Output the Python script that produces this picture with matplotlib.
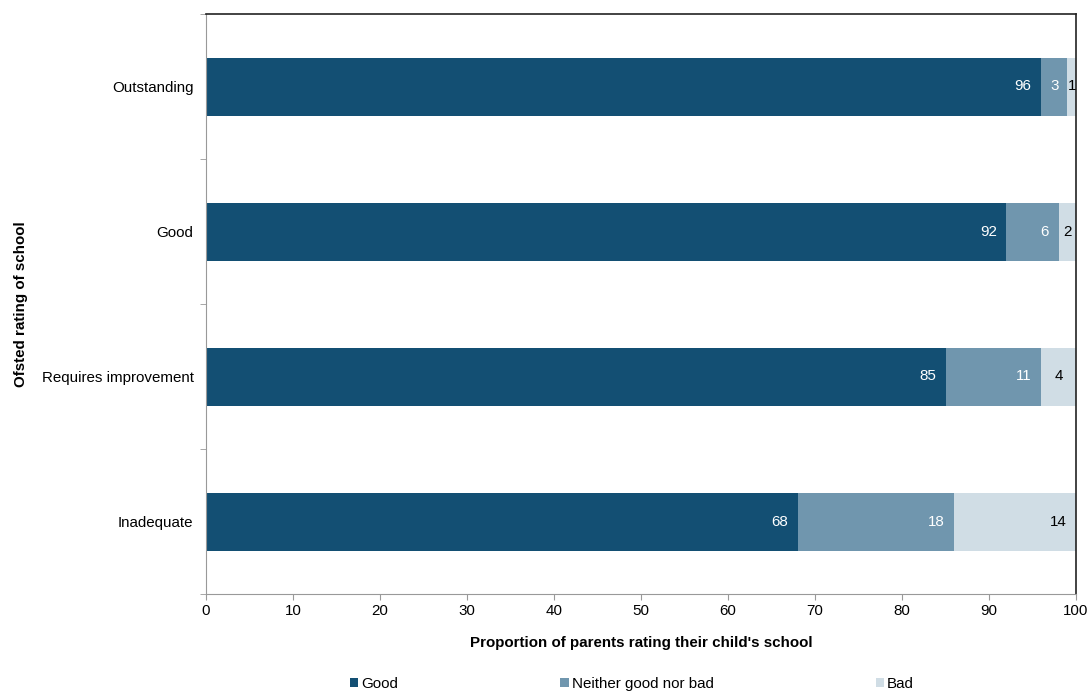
import matplotlib
matplotlib.use("Agg")
import matplotlib.pyplot as plt
from matplotlib.patches import Patch
import numpy as np

plt.rcParams['font.family'] = ['Liberation Sans', 'DejaVu Sans']

categories = ["Outstanding", "Good", "Requires improvement", "Inadequate"]
series_names = ["Good", "Neither good nor bad", "Bad"]
good = [96, 92, 85, 68]
neither = [3, 6, 11, 18]
bad = [1, 2, 4, 14]
colors = ["#134f73", "#7096ae", "#d0dde5"]
label_colors = ["white", "white", "black"]
x_ticks = [0, 10, 20, 30, 40, 50, 60, 70, 80, 90, 100]

FS = 10.9

fig = plt.figure(figsize=(10.91, 6.91), dpi=100)
ax = fig.add_axes([206 / 1091, 97 / 691, 870 / 1091, 580 / 691])

y = np.arange(len(categories))
left = np.zeros(len(categories))
for vals, col, lc, name in zip([good, neither, bad], colors, label_colors, series_names):
    vals = np.array(vals, dtype=float)
    ax.barh(y, vals, left=left, height=0.4, color=col, label=name)
    for yi, (l, v) in enumerate(zip(left, vals)):
        if v <= 4:
            ax.text(l + v / 2, yi, f"{int(v)}", ha="center", va="center",
                    color=lc, fontsize=FS)
        else:
            ax.annotate(f"{int(v)}", xy=(l + v, yi), xytext=(-7, 0),
                        textcoords="offset points", ha="right", va="center",
                        color=lc, fontsize=FS)
    left += vals

ax.set_xlim(0, 100)
ax.set_ylim(len(categories) - 0.5, -0.5)
ax.set_xticks(x_ticks)
ax.set_xticklabels([str(t) for t in x_ticks], fontsize=FS)
ax.set_yticks(y)
ax.set_yticklabels(categories, fontsize=FS)
ax.set_yticks(np.arange(len(categories) + 1) - 0.5, minor=True)
ax.tick_params(axis="y", which="major", length=0, pad=9)
ax.tick_params(axis="y", which="minor", length=4, color="#999999", direction="out")
ax.tick_params(axis="x", which="major", length=4, color="#999999", direction="out", pad=3)

for side in ["left", "bottom"]:
    ax.spines[side].set_color("#999999")
for side in ["top", "right"]:
    ax.spines[side].set_color("#222222")
    ax.spines[side].set_linewidth(1.2)

ax.set_xlabel("Proportion of parents rating their child's school",
              fontsize=FS, fontweight="bold", labelpad=13)
ax.set_ylabel("Ofsted rating of school", fontsize=FS, fontweight="bold", labelpad=10)

handles = [Patch(facecolor=c, edgecolor="none") for c in colors]
fig.legend(handles, series_names, loc="center", bbox_to_anchor=(632 / 1091, 7 / 691),
           ncol=3, frameon=False, fontsize=FS, handlelength=0.55, handleheight=0.55,
           handletextpad=0.2, columnspacing=10.7)

fig.savefig("out.png", dpi=100)
